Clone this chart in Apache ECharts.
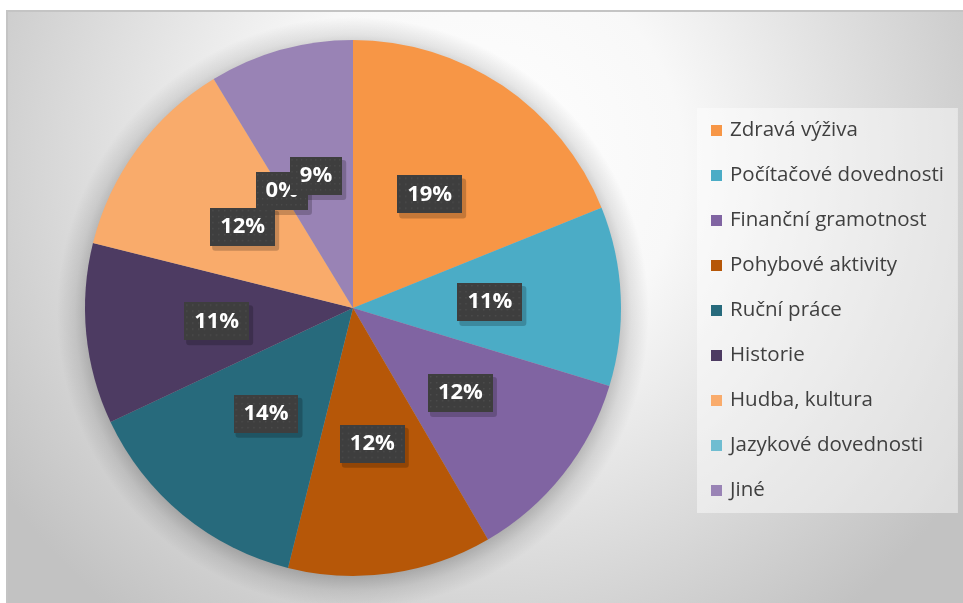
<!DOCTYPE html>
<html lang="cs">
<head>
    <meta charset="UTF-8">
    <title>Zájem o témata</title>
    <script src="https://cdn.jsdelivr.net/npm/echarts@6/dist/echarts.min.js"></script>
    <style>
        html, body { margin: 0; padding: 0; background: #fff; }
        #main { width: 963px; height: 603px; }
    </style>
</head>
<body>
    <div id="main"></div>
    <script>
        // podíly v procentech
        const categories = [
            'Zdravá výživa', 'Počítačové dovednosti', 'Finanční gramotnost',
            'Pohybové aktivity', 'Ruční práce', 'Historie',
            'Hudba, kultura', 'Jazykové dovednosti', 'Jiné'
        ];
        const values = [18.9, 10.8, 11.9, 12.3, 14.1, 10.9, 12.4, 0, 8.7];
        const colors = [
            '#F79646', '#4BACC6', '#8064A2', '#B65708', '#276A7C',
            '#4D3B62', '#F9AB6B', '#6FBDD1', '#9983B5'
        ];

        // tmavé pozadí popisků s jemnými tečkami
        var tex = document.createElement('canvas');
        tex.width = 66; tex.height = 38;
        var g = tex.getContext('2d');
        g.fillStyle = '#3e3e3e';
        g.fillRect(0, 0, 66, 38);
        g.fillStyle = '#4c4c4c';
        for (var yy = 2; yy < 38; yy += 6) {
            for (var xx = 2; xx < 66; xx += 6) {
                g.fillRect(xx, yy, 1.5, 1.5);
            }
        }

        var pieData = categories.map(function (c, i) {
            return { name: c, value: values[i] };
        });
        var fmt = function (p) { return Math.round(p.percent) + '%'; };

        var chart = echarts.init(document.getElementById('main'));

        var option = {
            animation: false,
            color: colors,
            graphic: [{
                type: 'rect',
                z: -10,
                shape: { x: 7, y: 11, width: 960, height: 600 },
                style: {
                    fill: {
                        type: 'radial', x: 480, y: 160, r: 580, global: true,
                        colorStops: [
                            { offset: 0, color: '#ffffff' },
                            { offset: 0.35, color: '#f8f8f8' },
                            { offset: 1, color: '#c2c2c2' }
                        ]
                    },
                    stroke: '#c4c4c4',
                    lineWidth: 2
                }
            }],
            legend: {
                orient: 'vertical',
                left: 697,
                top: 108,
                padding: [12, 14, 12, 14],
                backgroundColor: 'rgba(255,255,255,0.45)',
                itemWidth: 11,
                itemHeight: 11,
                itemGap: 24,
                icon: 'rect',
                data: categories.map(function (c, i) {
                    return { name: c, itemStyle: { color: colors[i] } };
                }),
                textStyle: {
                    fontFamily: 'Open Sans',
                    fontSize: 20.5,
                    lineHeight: 21,
                    color: '#404040',
                    padding: [0, 0, 0, 3]
                }
            },
            series: [{
                // měkký stín pod koláčem
                type: 'pie',
                name: 'stin',
                silent: true,
                center: [353, 313],
                radius: 296,
                z: 1,
                label: { show: false },
                labelLine: { show: false },
                emphasis: { disabled: true },
                itemStyle: {
                    color: {
                        type: 'radial', x: 0.5, y: 0.5, r: 0.5,
                        colorStops: [
                            { offset: 0, color: 'rgba(0,0,0,0.28)' },
                            { offset: 0.88, color: 'rgba(0,0,0,0.25)' },
                            { offset: 0.94, color: 'rgba(0,0,0,0.09)' },
                            { offset: 1, color: 'rgba(0,0,0,0)' }
                        ]
                    }
                },
                data: [{ value: 1, name: 'stin' }]
            }, {
                // stíny popisků
                type: 'pie',
                name: 'stiny-popisku',
                silent: true,
                center: [353, 308],
                radius: 268,
                z: 2,
                startAngle: 90,
                clockwise: true,
                minShowLabelAngle: -1,
                labelLayout: { hideOverlap: false },
                itemStyle: { color: 'rgba(0,0,0,0)' },
                label: {
                    show: true,
                    position: 'inside',
                    formatter: fmt,
                    fontFamily: 'Open Sans',
                    fontWeight: 'bold',
                    fontSize: 22,
                    lineHeight: 22,
                    color: 'rgba(0,0,0,0)',
                    backgroundColor: 'rgba(0,0,0,0.2)',
                    borderRadius: 3,
                    padding: [9, 11],
                    offset: [3, 4]
                },
                labelLine: { show: false },
                emphasis: { disabled: true },
                data: pieData
            }, {
                type: 'pie',
                name: 'Témata',
                center: [353, 308],
                radius: 268,
                z: 2,
                startAngle: 90,
                clockwise: true,
                minShowLabelAngle: -1,
                labelLayout: { hideOverlap: false },
                label: {
                    show: true,
                    position: 'inside',
                    formatter: fmt,
                    fontFamily: 'Open Sans',
                    fontWeight: 'bold',
                    fontSize: 22,
                    lineHeight: 22,
                    color: '#ffffff',
                    backgroundColor: { image: tex },
                    padding: [8, 10]
                },
                labelLine: { show: false },
                emphasis: { disabled: true },
                data: pieData
            }]
        };

        chart.setOption(option);
    </script>
</body>
</html>
